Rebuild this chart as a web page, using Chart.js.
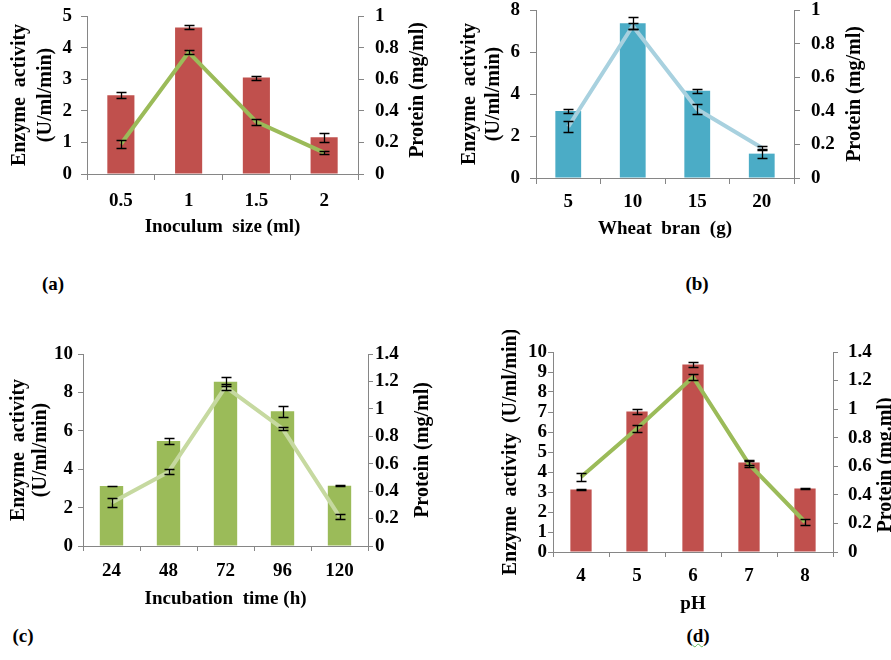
<!DOCTYPE html>
<html>
<head>
<meta charset="utf-8">
<script src="https://cdn.jsdelivr.net/npm/chart.js@4.4.1/dist/chart.umd.min.js"></script>
<style>
  body { margin: 0; background: #fff; }
  #fig { position: relative; width: 891px; height: 660px; overflow: hidden; background: #fff; }
  canvas { position: absolute; }
  .lbl { position: absolute; font: bold 19px 'Liberation Serif', 'Times New Roman', serif; line-height: 22px; transform: translateX(-50%); color: #000; }
  .wavy { text-decoration: underline wavy #5cb85c; text-decoration-thickness: 1px; }
</style>
</head>
<body>
<div id="fig">
  <canvas id="chartA" width="440" height="250" style="left:0px;top:0px"></canvas>
  <canvas id="chartB" width="451" height="250" style="left:440px;top:0px"></canvas>
  <canvas id="chartC" width="440" height="290" style="left:0px;top:330px"></canvas>
  <canvas id="chartD" width="451" height="290" style="left:440px;top:330px"></canvas>
  <div class="lbl" style="left:53px;top:273px">(a)</div>
  <div class="lbl" style="left:697px;top:273px">(b)</div>
  <div class="lbl" style="left:23px;top:625px">(c)</div>
  <div class="lbl" style="left:698px;top:625px">(<span class="wavy">d</span>)</div>
</div>
<script>
// (a) inoculum size
const inoculumSizes = ['0.5', '1', '1.5', '2'];
const inoculumActivity = [2.49, 4.64, 3.05, 1.16];
const inoculumActivityErr = [0.09, 0.06, 0.06, 0.15];
const inoculumProtein = [0.19, 0.77, 0.33, 0.135];
const inoculumProteinErr = [0.025, 0.013, 0.017, 0.01];

// (b) wheat bran
const branAmounts = ['5', '10', '15', '20'];
const branActivity = [3.19, 7.37, 4.16, 1.16];
const branActivityErr = [0.09, 0.29, 0.1, 0.2];
const branProtein = [0.305, 0.905, 0.41, 0.18];
const branProteinErr = [0.032, 0.02, 0.032, 0.012];

// (c) incubation time
const incubationTimes = ['24', '48', '72', '96', '120'];
const incubationActivity = [3.13, 5.47, 8.56, 7.02, 3.14];
const incubationActivityErr = [0.02, 0.18, 0.24, 0.28, 0.02];
const incubationProtein = [0.315, 0.54, 1.16, 0.856, 0.214];
const incubationProteinErr = [0.033, 0.018, 0.02, 0.01, 0.02];

// (d) pH
const phValues = ['4', '5', '6', '7', '8'];
const phActivity = [3.12, 7.03, 9.37, 4.47, 3.17];
const phActivityErr = [0.02, 0.13, 0.14, 0.12, 0.04];
const phProtein = [0.525, 0.865, 1.225, 0.615, 0.21];
const phProteinErr = [0.025, 0.025, 0.02, 0.02, 0.024];

// axis ranges [max, step]
const activityRanges = { a: [5, 1], b: [8, 2], c: [10, 2], d: [10, 1] };
const proteinRanges = { a: [1, 0.2], b: [1, 0.2], c: [1.4, 0.2], d: [1.4, 0.2] };

Chart.defaults.font.family = "'Liberation Serif', 'Times New Roman', serif";
Chart.defaults.font.weight = 'bold';
Chart.defaults.color = '#000';

const axisGray = '#868686';
const tickFont = { size: 19, weight: 'bold' };
// "1" not "1.0", like the spreadsheet labels
const plainNum = v => String(+v.toFixed(2));

// black error bars on every bar and line point
const errorBars = {
  id: 'errorBars',
  afterDatasetsDraw(chart) {
    const ctx = chart.ctx;
    ctx.save();
    ctx.strokeStyle = '#000';
    ctx.lineWidth = 1.3;
    chart.data.datasets.forEach((ds, i) => {
      const meta = chart.getDatasetMeta(i);
      const scale = chart.scales[meta.yAxisID];
      meta.data.forEach((el, j) => {
        const x = Math.round(el.x) + 0.5;
        const hi = Math.round(scale.getPixelForValue(ds.data[j] + ds.errors[j])) + 0.5;
        const lo = Math.round(scale.getPixelForValue(ds.data[j] - ds.errors[j])) + 0.5;
        ctx.beginPath();
        ctx.moveTo(x, hi); ctx.lineTo(x, lo);
        ctx.moveTo(x - 5, hi); ctx.lineTo(x + 5, hi);
        ctx.moveTo(x - 5, lo); ctx.lineTo(x + 5, lo);
        ctx.stroke();
      });
    });
    ctx.restore();
  }
};

function makePanel(id, cfg) {
  // right axis title reads bottom-to-top like the left one
  const rightTitle = {
    id: 'rightTitle',
    afterDraw(chart) {
      const a = chart.chartArea;
      const ctx = chart.ctx;
      ctx.save();
      ctx.translate(a.right + cfg.rTitleDx, (a.top + a.bottom) / 2 + cfg.rTitleDy);
      ctx.rotate(-Math.PI / 2);
      ctx.font = "bold 20px 'Liberation Serif', 'Times New Roman', serif";
      ctx.fillStyle = '#000';
      ctx.textAlign = 'center';
      ctx.textBaseline = 'middle';
      ctx.fillText(cfg.rTitle, 0, 0);
      ctx.restore();
    }
  };

  return new Chart(document.getElementById(id), {
    type: 'bar',
    data: {
      labels: cfg.labels,
      datasets: [
        {
          type: 'line',
          data: cfg.protein,
          errors: cfg.proteinErr,
          yAxisID: 'y1',
          borderColor: cfg.lineColor,
          borderWidth: 4,
          pointRadius: 0,
          tension: 0,
          order: 0
        },
        {
          data: cfg.activity,
          errors: cfg.activityErr,
          yAxisID: 'y',
          backgroundColor: cfg.barColor,
          categoryPercentage: 1,
          barPercentage: cfg.barPct,
          order: 1
        }
      ]
    },
    options: {
      responsive: false,
      animation: false,
      layout: { padding: { top: cfg.top, left: 0, right: 0, bottom: 0 } },
      plugins: { legend: { display: false }, tooltip: { enabled: false } },
      scales: {
        x: {
          offset: true,
          grid: { display: true, drawOnChartArea: false, color: axisGray, tickLength: cfg.tl, offset: true },
          border: { color: axisGray },
          ticks: { padding: cfg.xPad, font: tickFont },
          title: { display: true, text: cfg.xTitle, font: { size: 19, weight: 'bold' }, padding: { top: 0, bottom: cfg.xTitlePad } },
          afterFit: s => { s.height = cfg.xHeight; s.paddingLeft = 0; s.paddingRight = 0; }
        },
        y: {
          position: 'left',
          min: 0,
          max: cfg.yRange[0],
          grid: { display: true, drawOnChartArea: false, color: axisGray, tickLength: cfg.tl },
          border: { color: axisGray },
          ticks: { stepSize: cfg.yRange[1], autoSkip: false, padding: cfg.yPad, font: tickFont, callback: plainNum },
          title: { display: true, text: cfg.yTitle, font: { size: 20, weight: 'bold', lineHeight: cfg.yTitleLh }, padding: { top: cfg.yTitlePad, bottom: 0 } },
          afterFit: s => { s.width = cfg.leftW; s.paddingTop = 0; s.paddingBottom = 0; }
        },
        y1: {
          position: 'right',
          min: 0,
          max: cfg.y1Range[0],
          grid: { display: true, drawOnChartArea: false, color: axisGray, tickLength: cfg.tl },
          border: { color: axisGray },
          ticks: { stepSize: cfg.y1Range[1], autoSkip: false, padding: cfg.y1Pad, font: tickFont, callback: plainNum },
          afterFit: s => { s.width = cfg.rightW; s.paddingTop = 0; s.paddingBottom = 0; }
        }
      }
    },
    plugins: [errorBars, rightTitle]
  });
}

makePanel('chartA', {
  labels: inoculumSizes, activity: inoculumActivity, activityErr: inoculumActivityErr,
  protein: inoculumProtein, proteinErr: inoculumProteinErr,
  barColor: '#C0504D', lineColor: '#9BBB59', barPct: 0.4,
  yRange: activityRanges.a, y1Range: proteinRanges.a,
  xTitle: 'Inoculum  size (ml)', yTitle: ['Enzyme  activity', '(U/ml/min)'], rTitle: 'Protein (mg/ml)',
  top: 16, leftW: 87, rightW: 82, xHeight: 76, tl: 6,
  xPad: 9.6, yPad: 9, y1Pad: 11, xTitlePad: 11.6, yTitlePad: 7, yTitleLh: 1.3,
  rTitleDx: 60, rTitleDy: -5
});

makePanel('chartB', {
  labels: branAmounts, activity: branActivity, activityErr: branActivityErr,
  protein: branProtein, proteinErr: branProteinErr,
  barColor: '#4BACC6', lineColor: '#A8D1DF', barPct: 0.4,
  yRange: activityRanges.b, y1Range: proteinRanges.b,
  xTitle: 'Wheat  bran  (g)', yTitle: ['Enzyme  activity', '(U/ml/min)'], rTitle: 'Protein (mg/ml)',
  top: 10, leftW: 96, rightW: 97, xHeight: 72, tl: 6,
  xPad: 6.6, yPad: 10, y1Pad: 11, xTitlePad: 9.6, yTitlePad: 18, yTitleLh: 1.2,
  rTitleDx: 61, rTitleDy: 0
});

makePanel('chartC', {
  labels: incubationTimes, activity: incubationActivity, activityErr: incubationActivityErr,
  protein: incubationProtein, proteinErr: incubationProteinErr,
  barColor: '#9BBB59', lineColor: '#C6D9A0', barPct: 0.41,
  yRange: activityRanges.c, y1Range: proteinRanges.c,
  xTitle: 'Incubation  time (h)', yTitle: ['Enzyme  activity', '(U/ml/min)'], rTitle: 'Protein (mg/ml)',
  top: 24, leftW: 83, rightW: 72, xHeight: 74, tl: 5,
  xPad: 8.6, yPad: 5, y1Pad: 2, xTitlePad: 9.6, yTitlePad: 8, yTitleLh: 1.1,
  rTitleDx: 55, rTitleDy: 0
});

makePanel('chartD', {
  labels: phValues, activity: phActivity, activityErr: phActivityErr,
  protein: phProtein, proteinErr: phProteinErr,
  barColor: '#C0504D', lineColor: '#9BBB59', barPct: 0.38,
  yRange: activityRanges.d, y1Range: proteinRanges.d,
  xTitle: 'pH', yTitle: 'Enzyme  activity  (U/ml/min)', rTitle: 'Protein (mg.ml)',
  top: 22, leftW: 113, rightW: 58, xHeight: 68, tl: 5,
  xPad: 7.6, yPad: 1, y1Pad: 10, xTitlePad: 4.6, yTitlePad: 59, yTitleLh: 1.2,
  rTitleDx: 53, rTitleDy: 13
});
</script>
</body>
</html>
